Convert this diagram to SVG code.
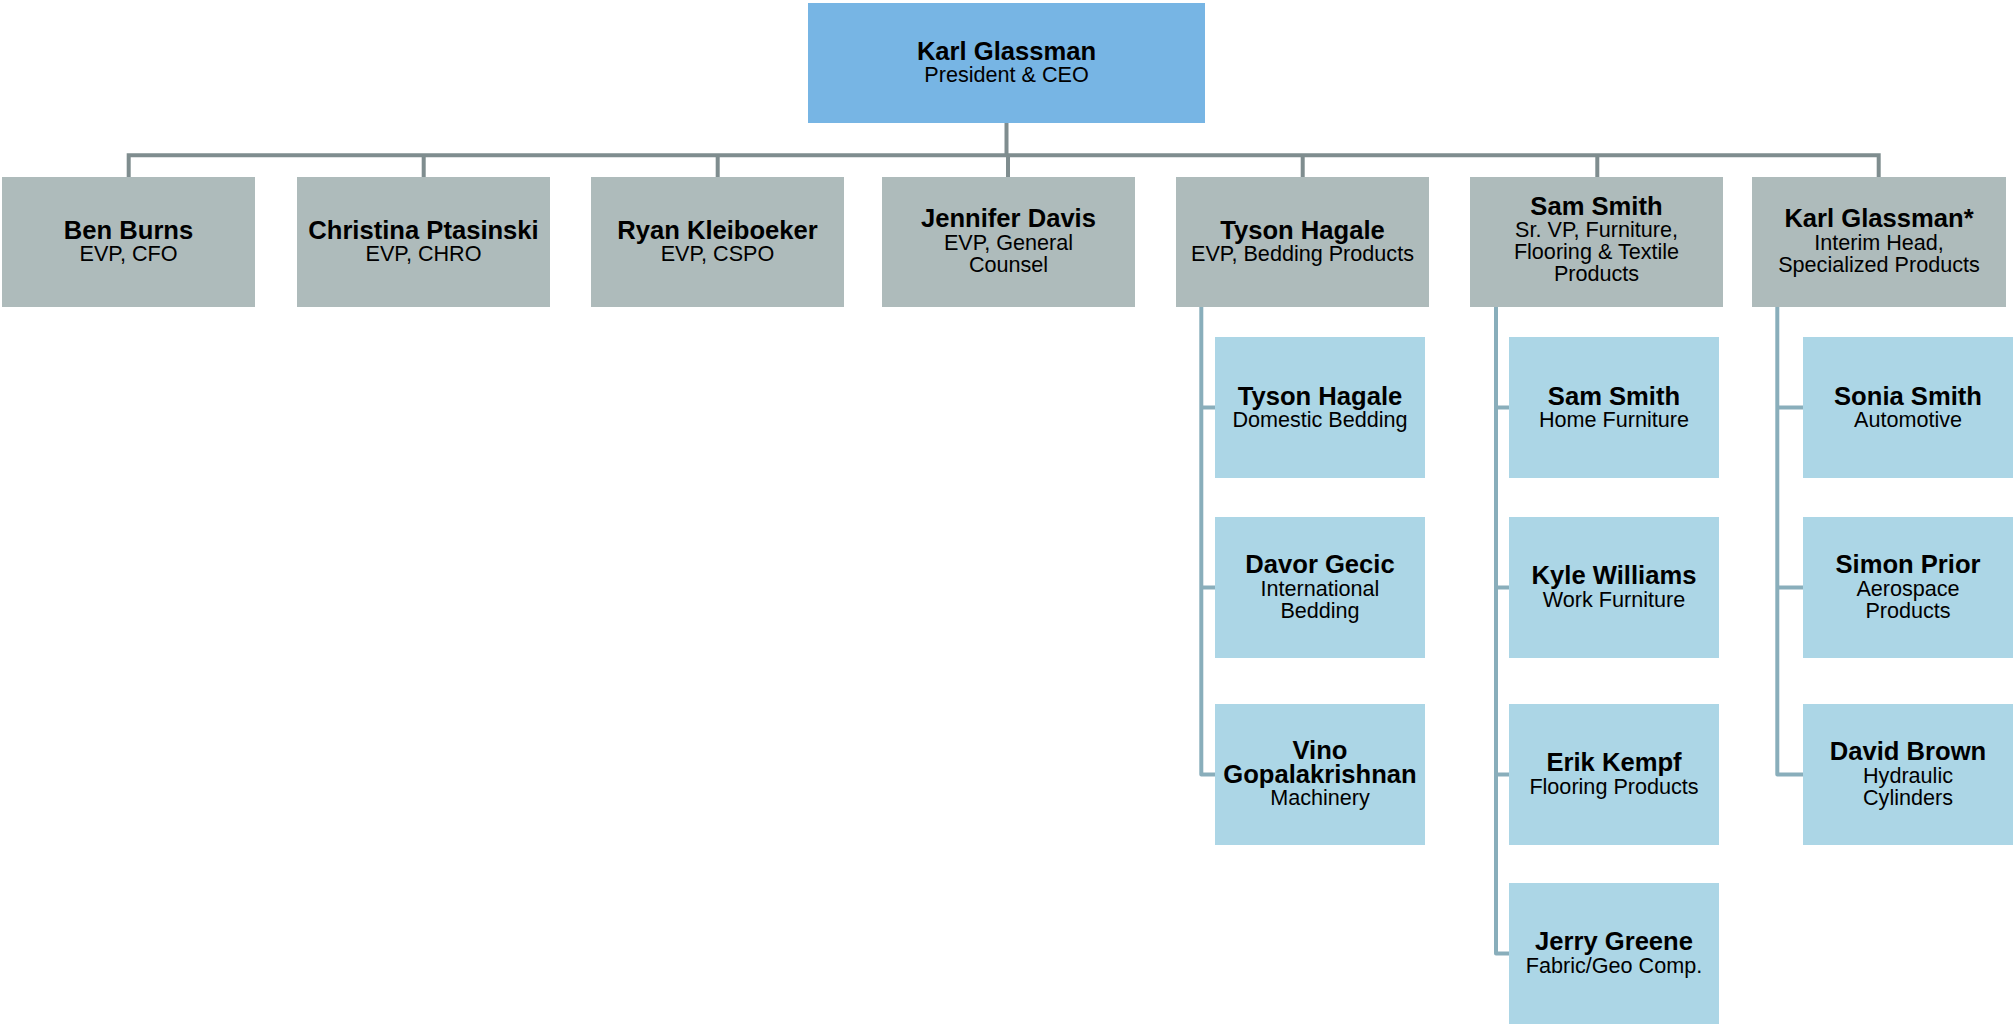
<svg xmlns="http://www.w3.org/2000/svg" width="2013" height="1024" viewBox="0 0 2013 1024">
<style>
  .top { fill: #77B5E4; }
  .l2 { fill: #AEBBBB; }
  .l3 { fill: #ACD6E6; }
  .c1 { fill: none; stroke: #7F8D8F; stroke-width: 4; }
  .c2 { fill: none; stroke: #89AEBB; stroke-width: 4; stroke-linejoin: round; }
  text { font-family: "Liberation Sans", Arial, sans-serif; text-anchor: middle; fill: #000; }
  .n { font-size: 25.6px; font-weight: bold; }
  .s { font-size: 21.6px; }
</style>
<rect width="2013" height="1024" fill="#FFFFFF"/>
<g id="connectors">
  <path class="c1" d="M1006.5,123 V155.3"/>
  <path class="c1" d="M128.7,177 V155.3 H1878.7 V177"/>
  <path class="c1" d="M423.7,155.3 V177 M717.7,155.3 V177 M1008,155.3 V177 M1302.7,155.3 V177 M1597.3,155.3 V177"/>
  <path class="c2" d="M1201.3,307 V774.5 H1215 M1201.3,407.5 H1215 M1201.3,587.5 H1215"/>
  <path class="c2" d="M1496,307 V953.5 H1509 M1496,407.5 H1509 M1496,587.5 H1509 M1496,774.5 H1509"/>
  <path class="c2" d="M1777.3,307 V774.5 H1803 M1777.3,407.5 H1803 M1777.3,587.5 H1803"/>
</g>
<g id="ceo">
  <rect class="top" x="808" y="3" width="397" height="120"/>
  <text class="n" x="1006.5" y="60">Karl Glassman</text>
  <text class="s" x="1006.5" y="82">President &amp; CEO</text>
</g>
<g id="ben-burns">
  <rect class="l2" x="2" y="177" width="253" height="130"/>
  <text class="n" x="128.5" y="238.5">Ben Burns</text>
  <text class="s" x="128.5" y="261">EVP, CFO</text>
</g>
<g id="christina-ptasinski">
  <rect class="l2" x="297" y="177" width="253" height="130"/>
  <text class="n" x="423.5" y="238.5">Christina Ptasinski</text>
  <text class="s" x="423.5" y="261">EVP, CHRO</text>
</g>
<g id="ryan-kleiboeker">
  <rect class="l2" x="591" y="177" width="253" height="130"/>
  <text class="n" x="717.5" y="238.5">Ryan Kleiboeker</text>
  <text class="s" x="717.5" y="261">EVP, CSPO</text>
</g>
<g id="jennifer-davis">
  <rect class="l2" x="882" y="177" width="253" height="130"/>
  <text class="n" x="1008.5" y="227">Jennifer Davis</text>
  <text class="s" x="1008.5" y="250">EVP, General</text>
  <text class="s" x="1008.5" y="272">Counsel</text>
</g>
<g id="tyson-hagale-evp">
  <rect class="l2" x="1176" y="177" width="253" height="130"/>
  <text class="n" x="1302.5" y="238.5">Tyson Hagale</text>
  <text class="s" x="1302.5" y="261">EVP, Bedding Products</text>
</g>
<g id="sam-smith-svp">
  <rect class="l2" x="1470" y="177" width="253" height="130"/>
  <text class="n" x="1596.5" y="215.3">Sam Smith</text>
  <text class="s" x="1596.5" y="237">Sr. VP, Furniture,</text>
  <text class="s" x="1596.5" y="259">Flooring &amp; Textile</text>
  <text class="s" x="1596.5" y="281">Products</text>
</g>
<g id="karl-glassman-interim">
  <rect class="l2" x="1752" y="177" width="254" height="130"/>
  <text class="n" x="1879" y="227">Karl Glassman*</text>
  <text class="s" x="1879" y="250">Interim Head,</text>
  <text class="s" x="1879" y="272">Specialized Products</text>
</g>
<g id="tyson-hagale-domestic">
  <rect class="l3" x="1215" y="337" width="210" height="141"/>
  <text class="n" x="1320" y="404.5">Tyson Hagale</text>
  <text class="s" x="1320" y="426.5">Domestic Bedding</text>
</g>
<g id="davor-gecic">
  <rect class="l3" x="1215" y="517" width="210" height="141"/>
  <text class="n" x="1320" y="572.5">Davor Gecic</text>
  <text class="s" x="1320" y="595.5">International</text>
  <text class="s" x="1320" y="617.5">Bedding</text>
</g>
<g id="vino-gopalakrishnan">
  <rect class="l3" x="1215" y="704" width="210" height="141"/>
  <text class="n" x="1320" y="758.5">Vino</text>
  <text class="n" x="1320" y="782.5">Gopalakrishnan</text>
  <text class="s" x="1320" y="805">Machinery</text>
</g>
<g id="sam-smith-home">
  <rect class="l3" x="1509" y="337" width="210" height="141"/>
  <text class="n" x="1614" y="404.5">Sam Smith</text>
  <text class="s" x="1614" y="426.5">Home Furniture</text>
</g>
<g id="kyle-williams">
  <rect class="l3" x="1509" y="517" width="210" height="141"/>
  <text class="n" x="1614" y="584">Kyle Williams</text>
  <text class="s" x="1614" y="606.5">Work Furniture</text>
</g>
<g id="erik-kempf">
  <rect class="l3" x="1509" y="704" width="210" height="141"/>
  <text class="n" x="1614" y="771">Erik Kempf</text>
  <text class="s" x="1614" y="793.5">Flooring Products</text>
</g>
<g id="jerry-greene">
  <rect class="l3" x="1509" y="883" width="210" height="141"/>
  <text class="n" x="1614" y="950">Jerry Greene</text>
  <text class="s" x="1614" y="972.5">Fabric/Geo Comp.</text>
</g>
<g id="sonia-smith">
  <rect class="l3" x="1803" y="337" width="210" height="141"/>
  <text class="n" x="1908" y="404.5">Sonia Smith</text>
  <text class="s" x="1908" y="426.5">Automotive</text>
</g>
<g id="simon-prior">
  <rect class="l3" x="1803" y="517" width="210" height="141"/>
  <text class="n" x="1908" y="572.5">Simon Prior</text>
  <text class="s" x="1908" y="595.5">Aerospace</text>
  <text class="s" x="1908" y="617.5">Products</text>
</g>
<g id="david-brown">
  <rect class="l3" x="1803" y="704" width="210" height="141"/>
  <text class="n" x="1908" y="759.5">David Brown</text>
  <text class="s" x="1908" y="782.5">Hydraulic</text>
  <text class="s" x="1908" y="804.5">Cylinders</text>
</g>
</svg>
